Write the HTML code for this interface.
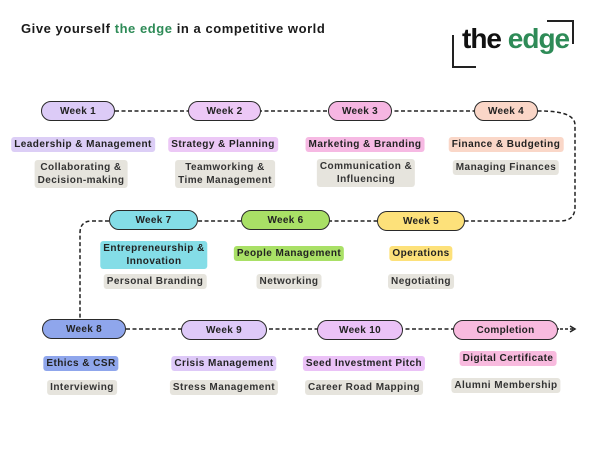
<!DOCTYPE html>
<html><head><meta charset="utf-8"><style>
body{margin:0;width:600px;height:450px;background:#fff;position:relative;overflow:hidden;font-family:"Liberation Sans",sans-serif;font-weight:bold;color:#222}
.p{position:absolute;height:18px;border:1.5px solid #2a2a2a;border-radius:11px;font-size:10px;line-height:19px;text-align:center;box-sizing:content-box;letter-spacing:0.3px}
.t{position:absolute;transform:translateX(-50%);padding:1px 3px;border-radius:3px;font-size:10px;line-height:13px;text-align:center;white-space:nowrap;letter-spacing:0.45px}
.s{background:#e6e4dd;color:#333}
</style></head><body>
<div style="position:absolute;left:21px;top:21px;font-size:13px;letter-spacing:0.55px;color:#1a1a1a">Give yourself <span style="color:#2e8b57">the edge</span> in a competitive world</div>
<div style="position:absolute;left:452px;top:35px;width:22px;height:31px;border-left:2.5px solid #222;border-bottom:2.5px solid #222"></div>
<div style="position:absolute;left:547px;top:20px;width:25px;height:22px;border-right:2.5px solid #222;border-top:2.5px solid #222"></div>
<div style="position:absolute;left:462px;top:24px;font-size:28px;letter-spacing:-1px;color:#111;line-height:30px">the <span style="color:#2e8b57">edge</span></div>
<svg width="600" height="450" style="position:absolute;left:0;top:0" fill="none" stroke="#222" stroke-width="1.5" stroke-dasharray="4,2.5">
<path d="M115 111H540 Q575 111 575 125 V207 Q575 221 560 221 H198 M109 221 H92 Q80 221 80 233 V318"/>
<path d="M126 329H560"/>
<path d="M560 329H574" stroke-dasharray="3,2"/>
<path d="M570 326L575 329L570 332" stroke-dasharray="none"/>
</svg>
<div class="p" style="left:41px;top:101px;width:72px;background:#dccbf7">Week 1</div>
<div class="p" style="left:188px;top:101px;width:71px;background:#ecc8f6">Week 2</div>
<div class="p" style="left:328px;top:101px;width:62px;background:#f6b6e2">Week 3</div>
<div class="p" style="left:474px;top:101px;width:62px;background:#fad6c7">Week 4</div>
<div class="p" style="left:377px;top:211px;width:86px;background:#fde17a">Week 5</div>
<div class="p" style="left:241px;top:210px;width:87px;background:#a9e066">Week 6</div>
<div class="p" style="left:109px;top:210px;width:87px;background:#84dde7">Week 7</div>
<div class="p" style="left:42px;top:319px;width:82px;background:#8fa6ec">Week 8</div>
<div class="p" style="left:181px;top:320px;width:84px;background:#dec9f8">Week 9</div>
<div class="p" style="left:317px;top:320px;width:84px;background:#ebc2f7">Week 10</div>
<div class="p" style="left:453px;top:320px;width:103px;background:#f8bade">Completion</div>

<div class="t" style="left:83px;top:137px;background:#dccef6">Leadership &amp; Management</div>
<div class="t" style="left:223px;top:137px;background:#ecc8f6">Strategy &amp; Planning</div>
<div class="t" style="left:365px;top:137px;background:#f6b9e3">Marketing &amp; Branding</div>
<div class="t" style="left:506px;top:137px;background:#fad7c8">Finance &amp; Budgeting</div>
<div class="t s" style="left:81px;top:160px">Collaborating &amp;<br>Decision-making</div>
<div class="t s" style="left:225px;top:160px">Teamworking &amp;<br>Time Management</div>
<div class="t s" style="left:366px;top:159px">Communication &amp;<br>Influencing</div>
<div class="t s" style="left:506px;top:160px">Managing Finances</div>

<div class="t" style="left:154px;top:241px;background:#84dde7">Entrepreneurship &amp;<br>Innovation</div>
<div class="t" style="left:289px;top:246px;background:#a9e066">People Management</div>
<div class="t" style="left:421px;top:246px;background:#fde17a">Operations</div>
<div class="t s" style="left:155px;top:274px">Personal Branding</div>
<div class="t s" style="left:289px;top:274px">Networking</div>
<div class="t s" style="left:421px;top:274px">Negotiating</div>

<div class="t" style="left:81px;top:356px;background:#8fa6ec">Ethics &amp; CSR</div>
<div class="t" style="left:224px;top:356px;background:#dec9f8">Crisis Management</div>
<div class="t" style="left:364px;top:356px;background:#ebc2f7">Seed Investment Pitch</div>
<div class="t" style="left:508px;top:351px;background:#f8bade">Digital Certificate</div>
<div class="t s" style="left:82px;top:380px">Interviewing</div>
<div class="t s" style="left:224px;top:380px">Stress Management</div>
<div class="t s" style="left:364px;top:380px">Career Road Mapping</div>
<div class="t s" style="left:506px;top:378px">Alumni Membership</div>
</body></html>
